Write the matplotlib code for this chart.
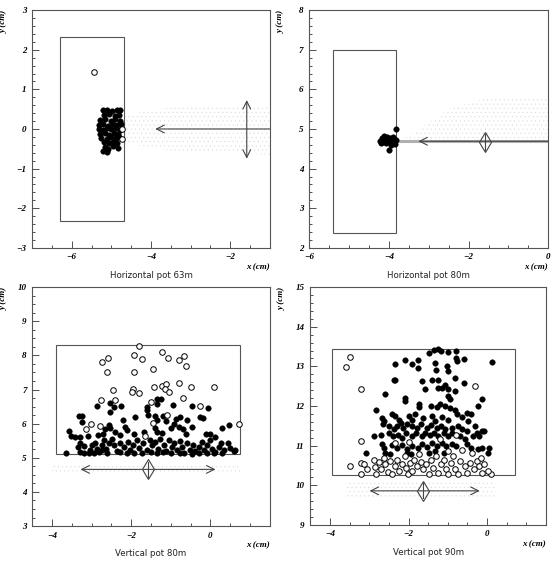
import numpy as np
import matplotlib.pyplot as plt
from matplotlib.patches import Rectangle, Polygon
from matplotlib.ticker import MultipleLocator

plt.rcParams['hatch.linewidth'] = 0.3

# ---- Horizontal pot 63m ----
h63_filled = np.array([
    (-5.22, 0.48), (-5.12, 0.47), (-4.98, 0.45), (-4.85, 0.48), (-4.78, 0.47),
    (-5.18, 0.35), (-5.05, 0.38), (-4.92, 0.33), (-4.80, 0.36),
    (-5.28, 0.22), (-5.15, 0.25), (-5.02, 0.20), (-4.90, 0.24), (-4.78, 0.20),
    (-5.30, 0.10), (-5.20, 0.12), (-5.08, 0.08), (-4.97, 0.12), (-4.85, 0.10), (-4.75, 0.12),
    (-5.30, 0.00), (-5.22, -0.02), (-5.12, 0.02), (-5.00, -0.01), (-4.88, 0.02), (-4.78, -0.03),
    (-5.28, -0.12), (-5.16, -0.10), (-5.05, -0.14), (-4.93, -0.10), (-4.82, -0.13),
    (-5.25, -0.22), (-5.12, -0.25), (-5.00, -0.20), (-4.88, -0.24), (-4.80, -0.20),
    (-5.18, -0.33), (-5.05, -0.36), (-4.95, -0.32), (-4.85, -0.35),
    (-5.15, -0.45), (-5.08, -0.50), (-4.95, -0.44), (-4.82, -0.47),
    (-5.20, -0.55), (-5.10, -0.58),
])
h63_open = np.array([(-5.44, 1.43), (-4.73, 0.00), (-4.72, -0.26)])

# ---- Horizontal pot 80m ----
h80_filled = np.array([
    (-3.82, 5.01), (-4.22, 4.70), (-4.18, 4.78), (-4.12, 4.82), (-4.05, 4.80),
    (-3.98, 4.78), (-4.15, 4.68), (-4.08, 4.65), (-4.00, 4.70), (-3.93, 4.68),
    (-3.88, 4.74), (-3.85, 4.62), (-4.10, 4.74), (-4.20, 4.64), (-3.95, 4.60),
    (-3.99, 4.46), (-4.05, 4.72), (-3.90, 4.80), (-3.83, 4.72),
])
h80_open = np.empty((0, 2))

# ---- Vertical pot 80m ----
v80_open = np.array([
    (-1.80, 8.28), (-2.74, 7.82), (-2.59, 7.93), (-2.61, 7.50), (-1.92, 8.01),
    (-1.73, 7.89), (-1.92, 7.50), (-1.23, 8.09), (-1.06, 7.91), (-0.78, 7.86),
    (-0.66, 7.98), (-0.62, 7.70), (-1.45, 7.59), (-2.47, 6.98), (-1.96, 7.03),
    (-1.98, 6.93), (-1.79, 6.89), (-1.43, 7.07), (-1.23, 7.10), (-1.11, 7.16),
    (-1.14, 7.02), (-1.04, 6.93), (-0.79, 7.20), (-0.49, 7.08), (0.10, 7.06),
    (-0.69, 6.74), (-2.76, 6.69), (-2.40, 6.69), (-1.49, 6.64), (-0.25, 6.51),
    (-3.01, 5.98), (-3.13, 5.83), (-2.78, 5.93), (-1.45, 6.03), (-1.09, 6.25),
    (0.73, 5.98), (-1.64, 5.63),
])
v80_filled = np.array([
    (-2.86, 6.51), (-2.54, 6.61), (-2.54, 6.35), (-2.44, 6.49), (-2.25, 6.51),
    (-1.91, 6.20), (-1.60, 6.49), (-1.60, 6.40), (-1.36, 6.72), (-1.25, 6.72),
    (-1.36, 6.59), (-0.94, 6.54), (-0.47, 6.52), (-0.07, 6.47), (-3.32, 6.22),
    (-3.25, 6.22), (-3.25, 6.05), (-2.21, 6.10), (-2.15, 5.91), (-2.11, 5.81),
    (-1.57, 6.25), (-1.39, 6.22), (-1.36, 6.10), (-1.19, 6.22), (-1.11, 6.08),
    (-0.86, 6.15), (-0.76, 6.20), (-0.59, 6.10), (-0.27, 6.20), (-0.19, 6.17),
    (-2.57, 5.96), (-2.53, 5.86), (-2.65, 5.83), (-3.58, 5.78), (-3.52, 5.64),
    (-3.41, 5.61), (-3.30, 5.61), (-3.10, 5.63), (-2.85, 5.66), (-2.70, 5.69),
    (-2.41, 5.76), (-2.29, 5.67), (-1.92, 5.71), (-1.68, 5.75), (-1.41, 5.86),
    (-1.35, 5.76), (-1.21, 5.73), (-1.00, 5.86), (-0.93, 5.98), (-0.79, 5.91),
    (-0.69, 5.83), (-0.62, 5.69), (-0.46, 5.91), (-0.10, 5.71), (0.00, 5.71),
    (0.13, 5.61), (0.29, 5.86), (0.46, 5.95), (-3.65, 5.14), (-3.28, 5.44),
    (-3.35, 5.32), (-3.30, 5.17), (-3.18, 5.34), (-3.05, 5.22), (-2.99, 5.37),
    (-2.91, 5.44), (-2.86, 5.27), (-2.80, 5.16), (-2.69, 5.53), (-2.74, 5.37),
    (-2.63, 5.27), (-2.57, 5.44), (-2.48, 5.56), (-2.43, 5.37), (-2.36, 5.20),
    (-2.29, 5.42), (-2.19, 5.32), (-2.08, 5.47), (-2.02, 5.24), (-1.95, 5.37),
    (-1.85, 5.51), (-1.79, 5.30), (-1.70, 5.44), (-1.60, 5.22), (-1.53, 5.53),
    (-1.47, 5.37), (-1.39, 5.47), (-1.33, 5.27), (-1.26, 5.54), (-1.18, 5.37),
    (-1.11, 5.20), (-1.04, 5.51), (-0.97, 5.32), (-0.91, 5.42), (-0.84, 5.22),
    (-0.77, 5.49), (-0.72, 5.32), (-0.66, 5.14), (-0.59, 5.42), (-0.52, 5.24),
    (-0.44, 5.37), (-0.38, 5.20), (-0.29, 5.32), (-0.21, 5.47), (-0.15, 5.22),
    (-0.08, 5.37), (-0.02, 5.53), (0.04, 5.27), (0.13, 5.17), (0.21, 5.32),
    (0.27, 5.44), (0.35, 5.22), (0.44, 5.42), (0.49, 5.30), (0.59, 5.20),
    (0.63, 5.24), (-3.07, 5.14), (-2.95, 5.14), (-2.60, 5.14), (-2.11, 5.14),
    (-1.73, 5.14), (-1.35, 5.14), (-1.00, 5.14), (-0.29, 5.14), (-0.08, 5.14),
    (0.29, 5.14), (-3.20, 5.14), (-2.74, 5.22), (-2.27, 5.17), (-1.92, 5.14),
    (-1.50, 5.17), (-1.19, 5.16), (-0.76, 5.14), (-0.46, 5.12), (0.08, 5.14),
])

# ---- Vertical pot 90m ----
v90_open = np.array([
    (-3.48, 13.23), (-3.59, 12.99), (-3.20, 12.42), (-0.30, 12.50), (-3.21, 11.13),
    (-3.50, 10.49), (-3.21, 10.57), (-3.22, 10.29), (0.11, 10.29), (0.03, 10.36),
    (-3.14, 10.53), (-3.05, 10.40), (-2.89, 10.65), (-2.86, 10.47), (-2.84, 10.29),
    (-2.74, 10.59), (-2.69, 10.42), (-2.63, 10.70), (-2.59, 10.53), (-2.52, 10.34),
    (-2.46, 10.62), (-2.42, 10.28), (-2.35, 10.49), (-2.30, 10.65), (-2.24, 10.36),
    (-2.17, 10.53), (-2.10, 10.74), (-2.07, 10.44), (-2.02, 10.28), (-1.96, 10.57),
    (-1.90, 10.36), (-1.85, 10.65), (-1.79, 10.49), (-1.73, 10.78), (-1.68, 10.59),
    (-1.62, 10.40), (-1.56, 10.53), (-1.49, 10.28), (-1.43, 10.65), (-1.37, 10.44),
    (-1.31, 10.74), (-1.24, 10.32), (-1.17, 10.53), (-1.11, 10.65), (-1.05, 10.40),
    (-0.99, 10.28), (-0.92, 10.57), (-0.86, 10.74), (-0.82, 10.42), (-0.75, 10.28),
    (-0.69, 10.61), (-0.63, 10.89), (-0.57, 10.49), (-0.50, 10.32), (-0.44, 10.57),
    (-0.38, 10.82), (-0.33, 10.40), (-0.27, 10.61), (-0.21, 10.49), (-0.16, 10.70),
    (-0.13, 10.32), (-0.08, 10.53), (-0.99, 10.86), (-0.78, 11.28), (-1.20, 11.16),
    (-1.98, 11.09), (-2.35, 11.07),
])
v90_filled = np.array([
    (-1.47, 13.34), (-1.34, 13.42), (-1.24, 13.44), (-1.18, 13.38), (-0.99, 13.36),
    (-0.80, 13.38), (-0.78, 13.21), (-0.59, 13.19), (0.13, 13.10), (-2.10, 13.17),
    (-2.34, 13.05), (-1.92, 13.05), (-1.77, 13.15), (-1.77, 12.96), (-1.32, 13.09),
    (-1.30, 12.92), (-1.02, 13.02), (-1.00, 12.88), (-0.76, 13.13), (-2.38, 12.65),
    (-2.34, 12.65), (-1.66, 12.63), (-1.41, 12.65), (-1.26, 12.65), (-0.82, 12.71),
    (-0.59, 12.58), (-1.59, 12.42), (-1.24, 12.46), (-1.16, 12.46), (-1.07, 12.52),
    (-1.00, 12.43), (-0.82, 12.37), (-2.59, 12.31), (-2.10, 12.21), (-2.10, 12.12),
    (-0.99, 12.25), (-0.95, 12.18), (-0.13, 12.18), (-0.23, 12.01), (-2.84, 11.89),
    (-1.73, 12.06), (-1.73, 11.97), (-1.43, 12.01), (-1.28, 11.98), (-1.20, 12.06),
    (-1.07, 11.99), (-0.95, 11.95), (-0.82, 11.91), (-2.41, 11.79), (-2.35, 11.75),
    (-2.67, 11.70), (-2.62, 11.62), (-2.64, 11.55), (-2.24, 11.66), (-2.19, 11.58),
    (-2.00, 11.75), (-1.92, 11.66), (-1.83, 11.79), (-1.62, 11.70), (-1.41, 11.75),
    (-1.32, 11.62), (-1.16, 11.73), (-0.99, 11.66), (-0.76, 11.79), (-0.65, 11.73),
    (-0.52, 11.83), (-0.40, 11.79), (-0.49, 11.62), (-2.50, 11.49), (-2.38, 11.41),
    (-2.29, 11.49), (-2.13, 11.45), (-2.04, 11.54), (-1.92, 11.49), (-1.79, 11.45),
    (-1.68, 11.54), (-1.54, 11.45), (-1.43, 11.51), (-1.28, 11.45), (-1.17, 11.49),
    (-1.07, 11.43), (-0.90, 11.45), (-0.75, 11.49), (-0.65, 11.43), (-0.52, 11.37),
    (-0.31, 11.49), (-0.14, 11.37), (-0.08, 11.37), (-2.89, 11.24), (-2.69, 11.26),
    (-2.50, 11.33), (-2.40, 11.24), (-2.27, 11.28), (-2.17, 11.20), (-2.06, 11.31),
    (-1.92, 11.24), (-1.81, 11.31), (-1.66, 11.24), (-1.58, 11.33), (-1.45, 11.26),
    (-1.34, 11.31), (-1.26, 11.24), (-1.11, 11.31), (-0.99, 11.24), (-0.89, 11.31),
    (-0.69, 11.24), (-0.57, 11.17), (-0.35, 11.24), (-0.27, 11.31), (-0.21, 11.24),
    (-2.68, 11.03), (-2.62, 10.95), (-2.42, 11.01), (-2.30, 10.95), (-2.17, 11.01),
    (-2.04, 10.91), (-1.90, 10.99), (-1.76, 10.93), (-1.66, 11.03), (-1.54, 10.97),
    (-1.41, 11.07), (-1.28, 10.99), (-1.16, 11.06), (-1.05, 10.99), (-0.89, 11.03),
    (-0.78, 10.99), (-0.52, 11.03), (-0.40, 10.95), (-0.23, 10.91), (-0.14, 10.95),
    (0.04, 10.95), (0.03, 10.82), (-3.08, 10.81), (-2.59, 10.82), (-2.46, 10.78),
    (-2.04, 10.82), (-1.93, 10.78), (-1.49, 10.82), (-1.32, 10.86), (-1.11, 10.82),
])

panels = [
    dict(pos=[0.058, 0.559, 0.428, 0.423], xlim=(-7, -1), ylim=(-3, 3),
         xmaj=2, xmin=0.5, ymaj=1, ymin=0.2,
         rect=(-6.29, -2.31, 1.61, 4.62),
         halo=[(-4.7, 0.35), (-3.5, 0.55), (-2, 0.6), (-1, 0.6),
               (-1, -0.65), (-2, -0.6), (-3.5, -0.55), (-4.7, -0.35)],
         core=None,
         beam=(-1.0, -3.89, 0.0), beam_both=False,
         mark=(-1.58, -0.75, 0.73), diamond=False,
         filled=h63_filled, opened=h63_open, caption='Horizontal pot 63m'),
    dict(pos=[0.557, 0.559, 0.431, 0.423], xlim=(-6, 0), ylim=(2, 8),
         xmaj=2, xmin=0.5, ymaj=1, ymin=0.2,
         rect=(-5.41, 2.38, 1.59, 4.62),
         halo=[(-3.8, 4.66), (-3.3, 4.95), (-2.5, 5.5), (-1.5, 5.8), (0, 5.8),
               (0, 4.66)],
         core=(-3.8, 0.0, 4.69),
         beam=(0.0, -3.26, 4.69), beam_both=False,
         mark=(-1.58, 4.47, 4.88), diamond=True,
         filled=h80_filled, opened=h80_open, caption='Horizontal pot 80m'),
    dict(pos=[0.058, 0.064, 0.428, 0.425], xlim=(-4.5, 1.5), ylim=(3, 10),
         xmaj=2, xmin=0.5, ymaj=1, ymin=0.25,
         rect=(-3.89, 5.12, 4.63, 3.19),
         halo=[(-4.0, 4.58), (0.75, 4.58), (0.75, 4.78), (-4.0, 4.78)],
         core=None,
         beam=(0.13, -3.28, 4.66), beam_both=True,
         mark=(-1.57, 4.44, 4.88), diamond=True,
         filled=v80_filled, opened=v80_open, caption='Vertical pot 80m'),
    dict(pos=[0.559, 0.066, 0.425, 0.423], xlim=(-4.5, 1.5), ylim=(9, 15),
         xmaj=2, xmin=0.5, ymaj=1, ymin=0.2,
         rect=(-3.94, 10.25, 4.64, 3.19),
         halo=[(-3.6, 9.68), (0.2, 9.68), (0.2, 10.08), (-3.6, 10.08)],
         core=None,
         beam=(-0.19, -2.99, 9.86), beam_both=True,
         mark=(-1.64, 9.67, 10.05), diamond=True,
         filled=v90_filled, opened=v90_open, caption='Vertical pot 90m'),
]

tick_font = dict(family='Liberation Serif', style='italic', weight='bold', size=6.5)

fig = plt.figure(figsize=(5.55, 5.62), dpi=100)

for p in panels:
    ax = fig.add_axes(p['pos'])
    ax.set_xlim(p['xlim'])
    ax.set_ylim(p['ylim'])

    # beam halo, drawn as a stipple
    ax.add_patch(Polygon(p['halo'], closed=True, facecolor='none',
                         edgecolor='#dadada', hatch='....', linewidth=0))
    if p['core'] is not None:
        c0, c1, cy = p['core']
        ax.plot([c0, c1], [cy, cy], color='#b0b0b0', lw=2.2, solid_capstyle='butt')

    x0, y0, w, h = p['rect']
    ax.add_patch(Rectangle((x0, y0), w, h, fill=False, edgecolor='#555555', lw=0.8))

    # beam direction arrow
    xs, xe, yb = p['beam']
    style = '<->' if p['beam_both'] else '->'
    ax.annotate('', xy=(xe, yb), xytext=(xs, yb),
                arrowprops=dict(arrowstyle=style, color='#444444', lw=0.8,
                                mutation_scale=14, shrinkA=0, shrinkB=0))
    xm, ya, yb2 = p['mark']
    if p['diamond']:
        ax.plot([xm, xm], [ya, yb2], color='#444444', lw=0.8)
        ax.plot([xm], [(ya + yb2) / 2], marker='d', markersize=10.5,
                markerfacecolor='none', markeredgecolor='#444444', mew=0.8)
    else:
        ax.annotate('', xy=(xm, ya), xytext=(xm, yb2),
                    arrowprops=dict(arrowstyle='<->', color='#444444', lw=0.8,
                                    mutation_scale=14, shrinkA=0, shrinkB=0))

    f = p['filled']
    ax.scatter(f[:, 0], f[:, 1], s=16, c='black', edgecolors='black',
               linewidths=0.3, zorder=3)
    o = p['opened']
    if len(o):
        ax.scatter(o[:, 0], o[:, 1], s=16, facecolors='white',
                   edgecolors='black', linewidths=0.7, zorder=4)

    ax.xaxis.set_major_locator(MultipleLocator(p['xmaj']))
    ax.xaxis.set_minor_locator(MultipleLocator(p['xmin']))
    ax.yaxis.set_major_locator(MultipleLocator(p['ymaj']))
    ax.yaxis.set_minor_locator(MultipleLocator(p['ymin']))
    ax.tick_params(which='both', direction='in', top=False, right=False,
                   color='#333333', width=0.6)
    ax.tick_params(which='major', length=5, pad=4)
    ax.tick_params(which='minor', length=2.5)
    for lab in ax.get_xticklabels() + ax.get_yticklabels():
        lab.set_fontproperties(tick_font)
        lab.set_fontsize(6.5)
    for s in ax.spines.values():
        s.set_color('#555555')
        s.set_linewidth(0.8)

    ax.text(-0.12, 1.0, 'y (cm)', transform=ax.transAxes, rotation=90,
            ha='center', va='top', **tick_font)
    ax.text(1.0, -0.08, 'x (cm)', transform=ax.transAxes,
            ha='right', va='center', **tick_font)
    ax.text(0.5, -0.115, p['caption'], transform=ax.transAxes,
            ha='center', va='center', family='DejaVu Sans', size=6.2,
            color='#222222')

fig.savefig('out.png', dpi=100)
